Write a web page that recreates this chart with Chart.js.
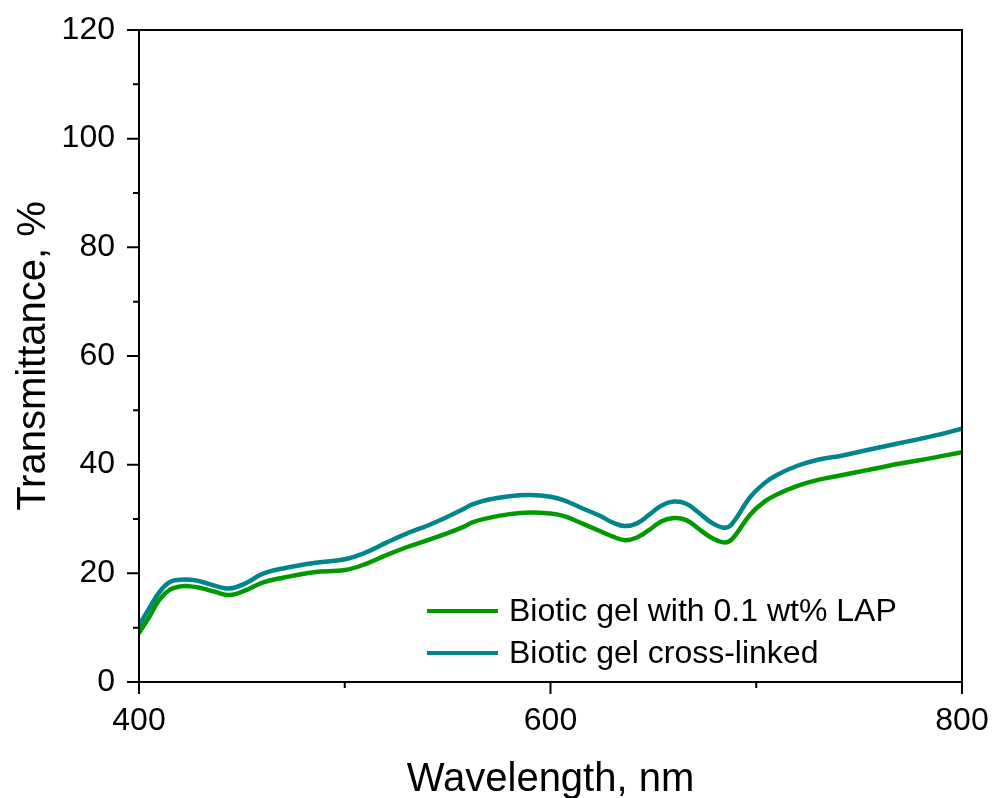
<!DOCTYPE html>
<html>
<head>
<meta charset="utf-8">
<script src="https://cdn.jsdelivr.net/npm/chart.js@4.4.1/dist/chart.umd.min.js"></script>
<style>
  html, body { margin: 0; padding: 0; background: #fff; }
  #wrap { width: 995px; height: 798px; }
</style>
</head>
<body>
<div id="wrap"><canvas id="chart" width="995" height="798"></canvas></div>
<script>
// wavelength, nm
const wavelength = [400, 405, 410, 415, 420, 425, 430, 437, 444, 452, 460, 470, 485, 500, 510, 520, 530, 541, 550, 558, 562, 570, 580, 590, 600, 607, 614, 624, 630, 636, 642, 648, 654, 660, 666, 672, 678, 684, 688, 697, 704, 710, 720, 730, 742, 754, 770, 785, 800];

// transmittance, %
const gelLAP = [9.0, 12.0, 15.2, 17.0, 17.6, 17.6, 17.3, 16.6, 16.0, 16.9, 18.3, 19.2, 20.2, 20.6, 21.7, 23.3, 24.8, 26.2, 27.4, 28.6, 29.4, 30.2, 30.9, 31.2, 31.0, 30.5, 29.4, 27.8, 26.8, 26.1, 26.6, 28.0, 29.6, 30.2, 29.8, 28.2, 26.6, 25.7, 26.2, 30.8, 33.2, 34.5, 36.1, 37.2, 38.1, 39.0, 40.2, 41.2, 42.3];
const gelCrossLinked = [10.4, 13.6, 16.6, 18.4, 18.8, 18.8, 18.5, 17.7, 17.2, 18.2, 19.9, 20.9, 21.9, 22.6, 23.8, 25.6, 27.3, 28.9, 30.4, 31.9, 32.7, 33.6, 34.2, 34.4, 34.1, 33.4, 32.2, 30.6, 29.4, 28.7, 29.2, 30.8, 32.5, 33.2, 32.8, 31.2, 29.4, 28.4, 29.0, 34.0, 36.6, 38.1, 39.8, 40.9, 41.7, 42.7, 44.0, 45.2, 46.6];

const seriesNames = ['Biotic gel with 0.1 wt% LAP', 'Biotic gel cross-linked'];
const seriesColors = ['#009900', '#00868a'];

const xMajor = [400, 600, 800];
const xMinor = [500, 700];
const yMajor = [0, 20, 40, 60, 80, 100, 120];
const yMinor = [10, 30, 50, 70, 90, 110];

const FONT = '"Liberation Sans", Arial, sans-serif';

function toPoints(xs, ys) {
    return xs.map((x, i) => ({ x: x, y: ys[i] }));
}

// frame, outward ticks and in-plot legend
const framePlugin = {
    id: 'frame',
    afterDraw(chart) {
        const ctx = chart.ctx;
        const a = chart.chartArea;
        const xs = chart.scales.x;
        const ys = chart.scales.y;
        ctx.save();
        ctx.strokeStyle = '#000';
        ctx.lineWidth = 2;
        ctx.strokeRect(a.left, a.top, a.right - a.left, a.bottom - a.top);

        ctx.beginPath();
        xMajor.forEach(v => {
            const px = xs.getPixelForValue(v);
            ctx.moveTo(px, a.bottom);
            ctx.lineTo(px, a.bottom + 12);
        });
        xMinor.forEach(v => {
            const px = xs.getPixelForValue(v);
            ctx.moveTo(px, a.bottom);
            ctx.lineTo(px, a.bottom + 6);
        });
        yMajor.forEach(v => {
            const py = ys.getPixelForValue(v);
            ctx.moveTo(a.left, py);
            ctx.lineTo(a.left - 12, py);
        });
        yMinor.forEach(v => {
            const py = ys.getPixelForValue(v);
            ctx.moveTo(a.left, py);
            ctx.lineTo(a.left - 6, py);
        });
        ctx.stroke();

        // legend
        ctx.font = '32px ' + FONT;
        ctx.textBaseline = 'middle';
        ctx.fillStyle = '#000';
        const rows = [611, 653];
        chart.data.datasets.forEach((ds, i) => {
            ctx.strokeStyle = ds.borderColor;
            ctx.lineWidth = 4;
            ctx.beginPath();
            ctx.moveTo(427, rows[i]);
            ctx.lineTo(498, rows[i]);
            ctx.stroke();
            ctx.fillText(ds.label, 509, rows[i] + 1);
        });
        ctx.restore();
    }
};

const ctx = document.getElementById('chart').getContext('2d');
new Chart(ctx, {
    type: 'line',
    data: {
        datasets: [
            {
                label: seriesNames[0],
                data: toPoints(wavelength, gelLAP),
                borderColor: seriesColors[0],
                backgroundColor: 'transparent',
                borderWidth: 4.5
            },
            {
                label: seriesNames[1],
                data: toPoints(wavelength, gelCrossLinked),
                borderColor: seriesColors[1],
                backgroundColor: 'transparent',
                borderWidth: 4.5
            }
        ]
    },
    options: {
        responsive: false,
        animation: false,
        devicePixelRatio: 1,
        layout: { padding: { top: 30, right: 33, left: 0, bottom: 0 } },
        plugins: {
            legend: { display: false },
            tooltip: { enabled: false }
        },
        elements: {
            point: { radius: 0 },
            line: { tension: 0.4, borderCapStyle: 'round', borderJoinStyle: 'round' }
        },
        scales: {
            x: {
                type: 'linear',
                min: 400,
                max: 800,
                afterFit(scale) {
                    scale.height = 116;
                    scale.paddingLeft = 0;
                    scale.paddingRight = 0;
                },
                afterBuildTicks(scale) { scale.ticks = xMajor.map(v => ({ value: v })); },
                grid: { display: false, drawTicks: false },
                border: { display: false },
                ticks: {
                    color: '#000',
                    padding: 20,
                    maxRotation: 0,
                    font: { size: 32, family: FONT }
                },
                title: {
                    display: true,
                    text: 'Wavelength, nm',
                    color: '#000',
                    font: { size: 40, family: FONT },
                    padding: { top: 0, bottom: -6 }
                }
            },
            y: {
                type: 'linear',
                min: 0,
                max: 120,
                afterFit(scale) {
                    scale.width = 139;
                    scale.paddingTop = 0;
                    scale.paddingBottom = 0;
                },
                afterBuildTicks(scale) { scale.ticks = yMajor.map(v => ({ value: v })); },
                grid: { display: false, drawTicks: false },
                border: { display: false },
                ticks: {
                    color: '#000',
                    padding: 24,
                    font: { size: 32, family: FONT }
                },
                title: {
                    display: true,
                    text: 'Transmittance, %',
                    color: '#000',
                    font: { size: 40, family: FONT },
                    padding: { top: 10, bottom: 0 }
                }
            }
        }
    },
    plugins: [framePlugin]
});
</script>
</body>
</html>
